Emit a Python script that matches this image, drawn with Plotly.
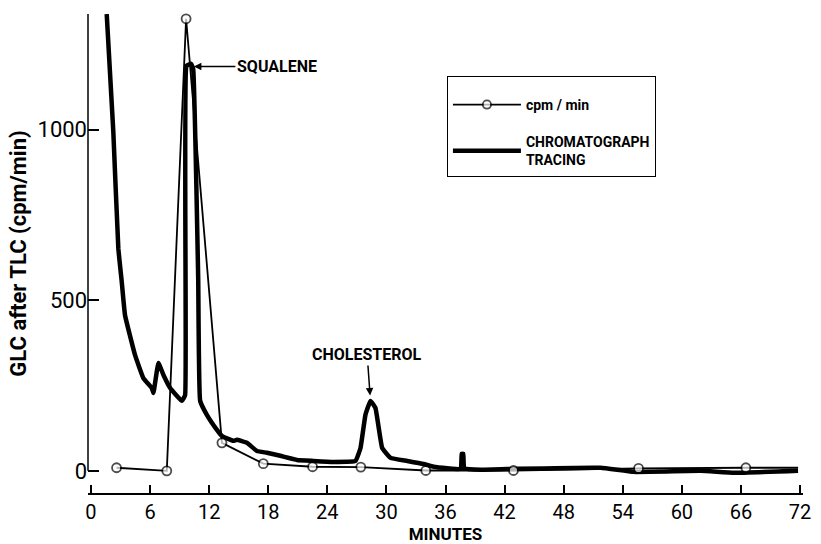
import plotly.graph_objects as go

# ---- data ----
cpm_x = [2.6, 7.7, 9.66, 13.3, 17.5, 22.5, 27.4, 34.0, 42.9, 55.6, 66.5, 71.8]
cpm_y = [9, 0, 1325, 82, 21, 12, 11, 1, 1, 7, 9, 9]
cpm_marker = [True, True, True, True, True, True, True, True, True, True, True, False]

chrom_x = [1.60, 2.27, 2.78, 3.12, 3.46, 4.48, 5.32, 6.17, 6.34, 6.85, 7.36, 8.04,
           9.23, 9.56, 9.71, 10.17, 10.38, 10.89, 11.09, 11.77, 12.79, 13.30, 14.45,
           14.82, 15.84, 16.86, 17.87, 19.23, 20.93, 22.58, 24.62, 26.86, 27.37, 27.87,
           28.38, 28.89, 29.57, 30.42, 32.12, 33.77, 34.79, 37.54, 37.65, 37.8, 37.9,
           39.57, 43.31, 51.75, 55.1, 61.9, 65.3, 71.8]
chrom_y = [1339, 994, 652, 556, 456, 339, 272, 243, 228, 316, 281, 243,
           205, 222, 1187, 1193, 1178, 564, 205, 164, 120, 102, 88,
           91, 82, 58, 53, 44, 32, 29, 26, 29, 67, 164,
           205, 184, 67, 38, 29, 20, 12, 6, 50, 50, 8,
           3, 6, 9, -3, 0, -6, 0]

x_ticks = [0, 6, 12, 18, 24, 30, 36, 42, 48, 54, 60, 66, 72]
y_ticks = [0, 500, 1000]
X_RANGE = [-0.3, 72.3]
Y_RANGE = [-65, 1339]

FONT = "Roboto, Liberation Sans, Arial, sans-serif"

fig = go.Figure()

fig.add_trace(go.Scatter(
    x=chrom_x, y=chrom_y, mode="lines",
    name="CHROMATOGRAPH<br>TRACING",
    line=dict(color="black", width=4.5, shape="spline", smoothing=0.3),
    legendgroup="b", legendrank=2, cliponaxis=True,
))

fig.add_trace(go.Scatter(
    x=cpm_x, y=cpm_y, mode="lines+markers",
    name="cpm / min",
    line=dict(color="black", width=1.8),
    marker=dict(symbol="circle", size=[9 if m else 0 for m in cpm_marker],
                color="white", line=dict(color="black", width=1.8)),
    legendgroup="a", legendrank=1, cliponaxis=False,
))

# y-axis line running from 0 up to the top of the axis
fig.add_shape(type="line", xref="x domain", x0=0, x1=0,
              yref="y", y0=0, y1=Y_RANGE[1],
              line=dict(color="black", width=1.5))

fig.add_annotation(x=10.35, y=1185, text="SQUALENE", showarrow=True,
                   ax=84, ay=0, arrowhead=2, arrowsize=1, arrowwidth=1.5,
                   arrowcolor="black", standoff=1,
                   font=dict(family=FONT, size=16, color="black", weight="bold"))
fig.add_annotation(x=28.35, y=218, text="CHOLESTEROL", showarrow=True,
                   ax=-3, ay=-42, arrowhead=2, arrowsize=1, arrowwidth=1.5,
                   arrowcolor="black", standoff=1,
                   font=dict(family=FONT, size=16, color="black", weight="bold"))

fig.update_layout(
    width=821, height=544,
    margin=dict(l=88, r=18, t=14, b=51),
    paper_bgcolor="white", plot_bgcolor="white",
    font=dict(family=FONT, color="black"),
    showlegend=True,
    legend=dict(x=0.502, y=0.87, xanchor="left", yanchor="top",
                bordercolor="black", borderwidth=1, bgcolor="white",
                traceorder="grouped", tracegroupgap=16,
                itemwidth=68,
                title=dict(text=" ", font=dict(size=9)),
                font=dict(family=FONT, size=14, color="black", weight="bold")),
    xaxis=dict(range=X_RANGE, tickvals=x_ticks, ticks="inside", ticklen=8,
               tickwidth=1.5, tickcolor="black", automargin=False,
               showline=True, linecolor="black", linewidth=1.5,
               showgrid=False, zeroline=False, ticklabelstandoff=0,
               tickfont=dict(family=FONT, size=20),
               title=dict(text="MINUTES", standoff=2,
                          font=dict(family=FONT, size=17, weight="bold"))),
    yaxis=dict(range=Y_RANGE, tickvals=y_ticks, ticks="inside", ticklen=11,
               tickwidth=1.5, tickcolor="black", automargin=False,
               showline=False, showgrid=False, zeroline=False,
               tickfont=dict(family=FONT, size=22),
               title=dict(text="GLC after TLC (cpm/min)", standoff=4,
                          font=dict(family=FONT, size=22, weight="bold"))),
)

fig.write_html("out.html")
